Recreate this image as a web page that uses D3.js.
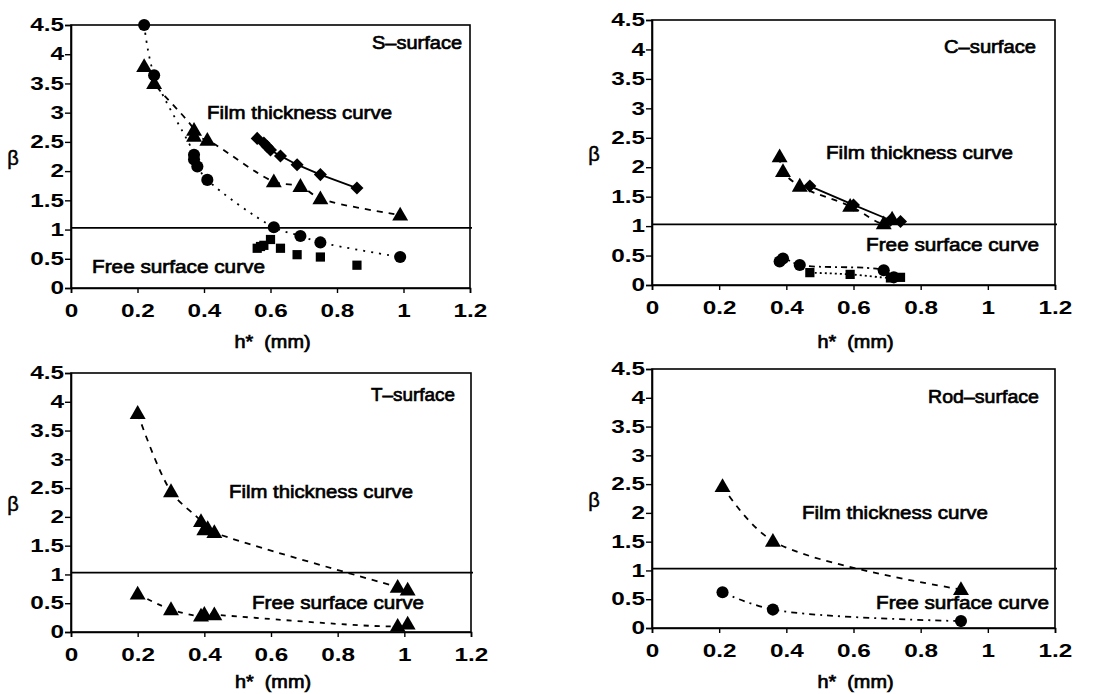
<!DOCTYPE html>
<html>
<head>
<meta charset="utf-8">
<script src="https://cdn.jsdelivr.net/npm/d3@7/dist/d3.min.js"></script>
<style>
  html, body { margin: 0; padding: 0; background: #fff; }
  svg text { font-family: "Liberation Sans", Arial, Helvetica, sans-serif; fill: #000; }
</style>
</head>
<body>
<svg id="chart" width="1116" height="694"></svg>
<script>
// ---------- DATA ----------
const xTickValues = [0, 0.2, 0.4, 0.6, 0.8, 1, 1.2];
const xTickLabels = ["0", "0.2", "0.4", "0.6", "0.8", "1", "1.2"];
const yTickValues = [0, 0.5, 1, 1.5, 2, 2.5, 3, 3.5, 4, 4.5];
const yTickLabels = ["0", "0.5", "1", "1.5", "2", "2.5", "3", "3.5", "4", "4.5"];
const panelTitles = ["S–surface", "C–surface", "T–surface", "Rod–surface"];
const filmLabel = "Film thickness curve";
const freeLabel = "Free surface curve";
const xAxisTitle = "h*  (mm)";
const yAxisTitle = "β";
const referenceBeta = 1.03;

// S-surface
const sCircleX = [0.22, 0.25, 0.37, 0.37, 0.38, 0.41, 0.61, 0.69, 0.75, 0.99];
const sCircleY = [4.5, 3.64, 2.28, 2.2, 2.08, 1.85, 1.04, 0.89, 0.78, 0.53];
const sTriangleX = [0.22, 0.25, 0.37, 0.37, 0.41, 0.61, 0.69, 0.75, 0.99];
const sTriangleY = [3.79, 3.5, 2.7, 2.6, 2.53, 1.82, 1.74, 1.53, 1.25];
const sDiamondX = [0.56, 0.58, 0.59, 0.60, 0.63, 0.68, 0.75, 0.86];
const sDiamondY = [2.56, 2.48, 2.42, 2.36, 2.26, 2.11, 1.94, 1.71];
const sSquareX = [0.56, 0.57, 0.58, 0.60, 0.63, 0.68, 0.75, 0.86];
const sSquareY = [0.68, 0.71, 0.73, 0.83, 0.68, 0.57, 0.53, 0.39];

// C-surface
const cTriangleX = [0.38, 0.39, 0.44, 0.59, 0.69, 0.715];
const cTriangleY = [2.18, 1.93, 1.68, 1.34, 1.04, 1.12];
const cDiamondX = [0.47, 0.60, 0.71, 0.74];
const cDiamondY = [1.68, 1.36, 1.10, 1.08];
const cCircleX = [0.38, 0.39, 0.44, 0.69, 0.72];
const cCircleY = [0.40, 0.45, 0.34, 0.25, 0.13];
const cSquareX = [0.47, 0.59, 0.71, 0.74];
const cSquareY = [0.21, 0.18, 0.12, 0.13];

// T-surface
const tFilmX = [0.20, 0.30, 0.39, 0.40, 0.41, 0.43, 0.98, 1.01];
const tFilmY = [3.80, 2.44, 1.92, 1.78, 1.80, 1.73, 0.78, 0.73];
const tFreeX = [0.20, 0.30, 0.39, 0.40, 0.43, 0.98, 1.01];
const tFreeY = [0.66, 0.39, 0.28, 0.31, 0.30, 0.10, 0.14];

// Rod-surface
const rFilmX = [0.21, 0.36, 0.92];
const rFilmY = [2.46, 1.51, 0.67];
const rFreeX = [0.21, 0.36, 0.92];
const rFreeY = [0.62, 0.32, 0.12];

// ---------- LAYOUT ----------
const zip = (xs, ys) => xs.map((x, i) => ({x: x, y: ys[i]}));

const panels = [
  { title: panelTitles[0], x0: 71, x1: 470, yb: 288, yt: 25,
    titlePos: [462, 49, 90], filmPos: [207, 119, 185], freePos: [92, 273, 173],
    xTitleY: 348, yTitleX: 13,
    series: [
      {d: zip(sCircleX, sCircleY), sym: "circle", dash: "2,6"},
      {d: zip(sTriangleX, sTriangleY), sym: "triangle", dash: "6,6"},
      {d: zip(sDiamondX, sDiamondY), sym: "diamond", dash: null},
      {d: zip(sSquareX, sSquareY), sym: "square", dash: "none"}
    ]},
  { title: panelTitles[1], x0: 652, x1: 1055, yb: 285, yt: 20,
    titlePos: [1036, 53, 92], filmPos: [826, 159, 187], freePos: [866, 251, 173],
    xTitleY: 348, yTitleX: 594,
    series: [
      {d: zip(cTriangleX, cTriangleY), sym: "triangle", dash: "6,6"},
      {d: zip(cDiamondX, cDiamondY), sym: "diamond", dash: null},
      {d: zip(cCircleX, cCircleY), sym: "circle", dash: "6,4,2,4"},
      {d: zip(cSquareX, cSquareY), sym: "square", dash: "2,3"}
    ]},
  { title: panelTitles[2], x0: 71, x1: 471, yb: 632, yt: 373,
    titlePos: [455, 401, 84], filmPos: [229, 498, 184], freePos: [252, 609, 172],
    xTitleY: 688, yTitleX: 13,
    series: [
      {d: zip(tFilmX, tFilmY), sym: "triangle", dash: "6,6"},
      {d: zip(tFreeX, tFreeY), sym: "triangle", dash: "5,6"}
    ]},
  { title: panelTitles[3], x0: 652, x1: 1055, yb: 628, yt: 369,
    titlePos: [1039, 403, 111], filmPos: [802, 519, 186], freePos: [876, 609, 173],
    xTitleY: 688, yTitleX: 594,
    series: [
      {d: zip(rFilmX, rFilmY), sym: "triangle", dash: "6,6"},
      {d: zip(rFreeX, rFreeY), sym: "circle", dash: "6,5,2,5"}
    ]}
];

const svg = d3.select("#chart");
const symSize = {circle: 115, triangle: 110, diamond: 85, square: 85};
const FONT = '"Liberation Sans", Arial, Helvetica, sans-serif';
const TICK_STRETCH = 1.35;

panels.forEach(p => {
  const x = d3.scaleLinear().domain([0, 1.2]).range([p.x0, p.x1]);
  const y = d3.scaleLinear().domain([0, 4.5]).range([p.yb, p.yt]);
  const g = svg.append("g");

  // series lines
  p.series.forEach(s => {
    if (s.dash === "none") return;
    const line = d3.line().x(d => x(d.x)).y(d => y(d.y))
      .curve(s.dash === null ? d3.curveLinear : d3.curveCatmullRom.alpha(0.5));
    g.append("path").datum(s.d).attr("d", line)
      .attr("fill", "none").attr("stroke", "#000")
      .attr("stroke-width", 1.8)
      .attr("stroke-dasharray", s.dash === null ? null : s.dash);
  });

  // frame
  g.append("rect").attr("x", p.x0).attr("y", p.yt)
    .attr("width", p.x1 - p.x0).attr("height", p.yb - p.yt)
    .attr("fill", "none").attr("stroke", "#000").attr("stroke-width", 1.6);

  // reference line
  g.append("line").attr("x1", p.x0).attr("x2", p.x1 + 2)
    .attr("y1", y(referenceBeta)).attr("y2", y(referenceBeta))
    .attr("stroke", "#000").attr("stroke-width", 1.8);

  // axes
  const xAxis = d3.axisBottom(x).tickValues(xTickValues)
    .tickFormat((d, i) => xTickLabels[i]).tickSize(5).tickPadding(11);
  const gx = g.append("g").attr("transform", `translate(0,${p.yb})`).call(xAxis);
  const yAxis = d3.axisLeft(y).tickValues(yTickValues)
    .tickFormat((d, i) => yTickLabels[i]).tickSize(6).tickPadding(1);
  const gy = g.append("g").attr("transform", `translate(${p.x0},0)`).call(yAxis);
  [gx, gy].forEach(ax => {
    ax.attr("font-size", 18).attr("font-family", FONT).attr("font-weight", "bold");
    ax.select(".domain").attr("stroke", "#000").attr("stroke-width", 1.6);
    ax.selectAll(".tick line").attr("stroke", "#000").attr("stroke-width", 1.4);
  });
  gx.selectAll(".tick text").attr("fill", "#000")
    .attr("transform", `scale(${TICK_STRETCH},1)`);
  gy.selectAll(".tick text").attr("fill", "#000")
    .attr("transform", `translate(-7,0) scale(${TICK_STRETCH},1) translate(7,0)`);

  // markers
  p.series.forEach(s => {
    g.selectAll(null).data(s.d).enter().append("path")
      .attr("d", d => {
        const t = s.sym === "circle" ? d3.symbolCircle :
                  s.sym === "triangle" ? d3.symbolTriangle : d3.symbolSquare;
        return d3.symbol().type(t).size(symSize[s.sym])();
      })
      .attr("transform", d => `translate(${x(d.x)},${y(d.y) + (s.sym === "triangle" ? 1 : 0)})` + (s.sym === "diamond" ? " rotate(45)" : ""))
      .attr("fill", "#000");
  });

  // texts
  const addText = (txt, pos, anchor, size) => {
    g.append("text").attr("x", pos[0]).attr("y", pos[1])
      .attr("text-anchor", anchor)
      .attr("textLength", pos[2]).attr("lengthAdjust", "spacingAndGlyphs")
      .style("font-size", size + "px")
      .attr("stroke", "#000").attr("stroke-width", 0.7)
      .text(txt);
  };
  addText(p.title, p.titlePos, "end", 19);
  addText(filmLabel, p.filmPos, "start", 19);
  addText(freeLabel, p.freePos, "start", 19);

  // axis titles
  g.append("text").attr("x", (p.x0 + p.x1) / 2 + 2).attr("y", p.xTitleY)
    .attr("text-anchor", "middle").style("font-size", "18px")
    .attr("stroke", "#000").attr("stroke-width", 0.7)
    .attr("xml:space", "preserve")
    .attr("textLength", 76).attr("lengthAdjust", "spacingAndGlyphs")
    .text(xAxisTitle);
  g.append("text").attr("x", p.yTitleX).attr("y", (p.yt + p.yb) / 2 + 8)
    .attr("text-anchor", "middle").style("font-size", "20px")
    .attr("stroke", "#000").attr("stroke-width", 0.5)
    .text(yAxisTitle);
});
</script>
</body>
</html>
